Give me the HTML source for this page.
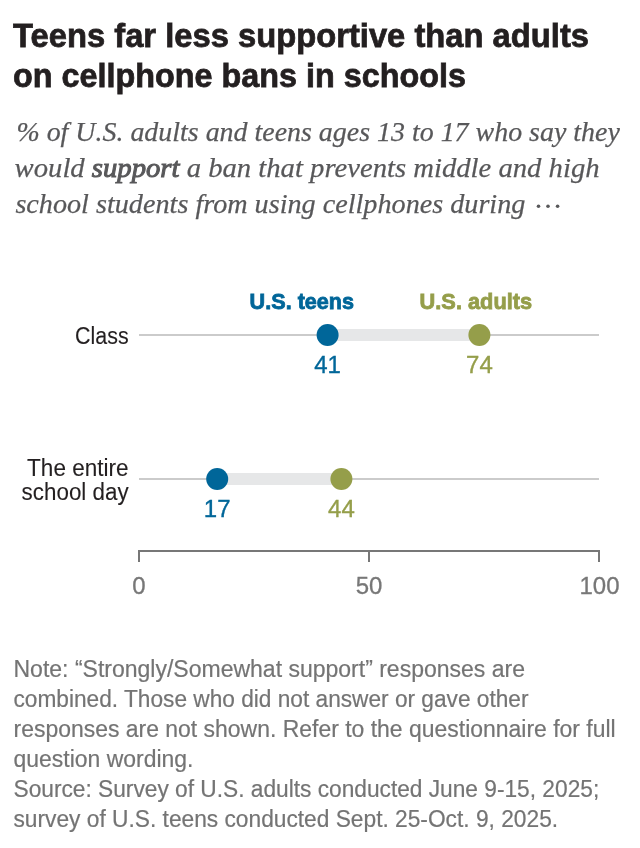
<!DOCTYPE html>
<html><head><meta charset="utf-8">
<style>
html,body{margin:0;padding:0;background:#fff;width:640px;height:848px;overflow:hidden}
svg{display:block;will-change:transform}
.t{font-family:"Liberation Sans",sans-serif;font-weight:bold;font-size:33px;fill:#231f20;stroke:#231f20;stroke-width:0.75px}
.s{font-family:"Liberation Serif",serif;font-style:italic;font-size:28px;fill:#58585a;stroke:#58585a;stroke-width:0.25px}
.b{font-weight:normal;stroke-width:1px}
.lab{font-family:"Liberation Sans",sans-serif;font-size:22px;fill:#231f20;stroke:#231f20;stroke-width:0.1px}
.leg{font-family:"Liberation Sans",sans-serif;font-weight:bold;font-size:22px;stroke-width:0.8px}
.num{font-family:"Liberation Sans",sans-serif;font-size:24px;stroke-width:0.35px}
.ax{font-family:"Liberation Sans",sans-serif;font-size:24px;fill:#777;stroke:#777;stroke-width:0.3px}
.n{font-family:"Liberation Sans",sans-serif;font-size:22.7px;fill:#747474;stroke:#747474;stroke-width:0.2px}
</style></head>
<body>
<svg width="640" height="848" viewBox="0 0 640 848">
<text class="t" transform="translate(13,46.8) scale(1,1.02)" x="0" y="0" textLength="576" lengthAdjust="spacingAndGlyphs">Teens far less supportive than adults</text>
<text class="t" transform="translate(13,86.8) scale(1,1.02)" x="0" y="0" textLength="453" lengthAdjust="spacingAndGlyphs">on cellphone bans in schools</text>

<text class="s" x="16.4" y="141" textLength="603.4" lengthAdjust="spacingAndGlyphs">% of U.S. adults and teens ages 13 to 17 who say they</text>
<text class="s" x="14.6" y="177" textLength="585" lengthAdjust="spacingAndGlyphs">would <tspan class="b">support</tspan> a ban that prevents middle and high</text>
<text class="s" x="15.4" y="213" textLength="510" lengthAdjust="spacingAndGlyphs">school students from using cellphones during</text>
<circle cx="538.5" cy="206.3" r="1.8" fill="#58585a"/><circle cx="548" cy="206.3" r="1.8" fill="#58585a"/><circle cx="557.6" cy="206.3" r="1.8" fill="#58585a"/>

<text class="leg" transform="translate(249.6,309.4) scale(1,1.02)" textLength="104.5" lengthAdjust="spacingAndGlyphs" fill="#006699" stroke="#006699">U.S. teens</text>
<text class="leg" transform="translate(419.6,309.4) scale(1,1.02)" textLength="112.5" lengthAdjust="spacingAndGlyphs" fill="#959e4a" stroke="#959e4a">U.S. adults</text>

<text class="lab" transform="translate(128.6,343.8) scale(1,1.05)" text-anchor="end" textLength="53.5" lengthAdjust="spacingAndGlyphs">Class</text>
<rect x="139" y="334" width="460" height="2" fill="#cbcbcb"/>
<rect x="327.6" y="329" width="151.8" height="12" fill="#e6e7e8"/>
<circle cx="327.6" cy="335" r="11" fill="#006699"/>
<circle cx="479.4" cy="335" r="11" fill="#959e4a"/>
<text class="num" x="327.6" y="372.8" text-anchor="middle" fill="#006699" stroke="#006699">41</text>
<text class="num" x="479.4" y="372.8" text-anchor="middle" fill="#959e4a" stroke="#959e4a">74</text>

<text class="lab" transform="translate(128.6,475.6) scale(1,1.05)" text-anchor="end" textLength="101.5" lengthAdjust="spacingAndGlyphs">The entire</text>
<text class="lab" transform="translate(128.6,499.6) scale(1,1.05)" text-anchor="end" textLength="107" lengthAdjust="spacingAndGlyphs">school day</text>
<rect x="139" y="478" width="460" height="2" fill="#cbcbcb"/>
<rect x="217.2" y="473" width="124.2" height="12" fill="#e6e7e8"/>
<circle cx="217.2" cy="479" r="11" fill="#006699"/>
<circle cx="341.4" cy="479" r="11" fill="#959e4a"/>
<text class="num" x="217.2" y="516.8" text-anchor="middle" fill="#006699" stroke="#006699">17</text>
<text class="num" x="341.4" y="516.8" text-anchor="middle" fill="#959e4a" stroke="#959e4a">44</text>

<rect x="138" y="550" width="462" height="2" fill="#777"/>
<rect x="138" y="550" width="2" height="12" fill="#777"/>
<rect x="368" y="550" width="2" height="12" fill="#777"/>
<rect x="598" y="550" width="2" height="12" fill="#777"/>
<text class="ax" x="139" y="593.7" text-anchor="middle">0</text>
<text class="ax" x="369" y="593.7" text-anchor="middle">50</text>
<text class="ax" x="599.5" y="593.7" text-anchor="middle">100</text>

<text class="n" transform="translate(13.5,676.5) scale(1,1.03)" textLength="511.5" lengthAdjust="spacingAndGlyphs">Note: “Strongly/Somewhat support” responses are</text>
<text class="n" transform="translate(13.5,706.5) scale(1,1.03)" textLength="515.0" lengthAdjust="spacingAndGlyphs">combined. Those who did not answer or gave other</text>
<text class="n" transform="translate(13.5,736.5) scale(1,1.03)" textLength="602.2" lengthAdjust="spacingAndGlyphs">responses are not shown. Refer to the questionnaire for full</text>
<text class="n" transform="translate(13.5,766.5) scale(1,1.03)" textLength="179.9" lengthAdjust="spacingAndGlyphs">question wording.</text>
<text class="n" transform="translate(13.5,796.5) scale(1,1.03)" textLength="585.7" lengthAdjust="spacingAndGlyphs">Source: Survey of U.S. adults conducted June 9-15, 2025;</text>
<text class="n" transform="translate(13.5,826.5) scale(1,1.03)" textLength="544.6" lengthAdjust="spacingAndGlyphs">survey of U.S. teens conducted Sept. 25-Oct. 9, 2025.</text>
</svg>
</body></html>
